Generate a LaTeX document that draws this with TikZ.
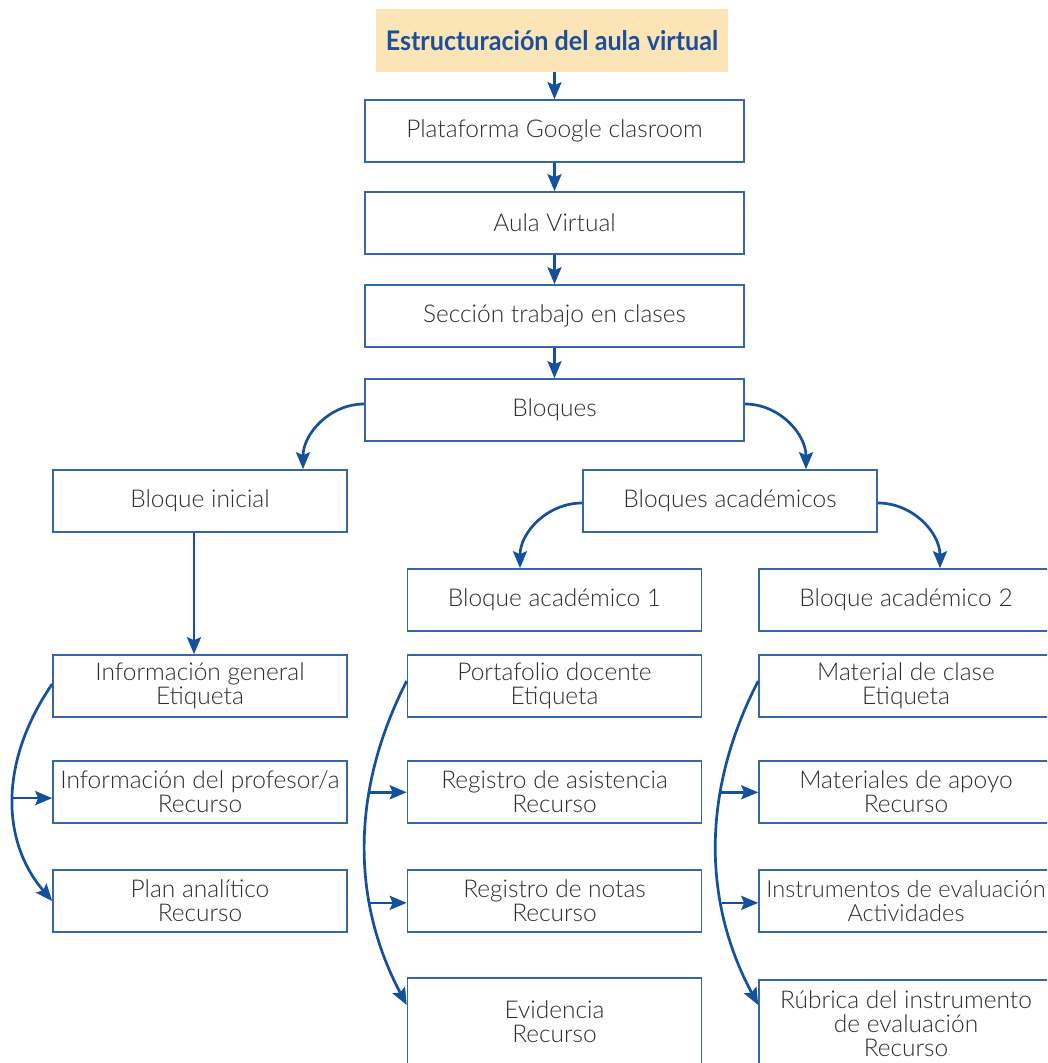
\documentclass[tikz,border=0pt]{standalone}
\usepackage{fontspec}
\setmainfont{Lato}[UprightFont={* Light}, BoldFont={* Bold}]
\usetikzlibrary{arrows.meta}
\definecolor{titlefill}{HTML}{FBE4B6}
\definecolor{titleblue}{HTML}{1B4F9B}
\definecolor{boxline}{HTML}{3567A6}
\definecolor{arrowblue}{HTML}{15509C}
\definecolor{textgray}{HTML}{2E2E2E}
\tikzset{
  box/.style={draw=boxline, line width=1.6pt, minimum width=294pt, minimum height=62pt,
    inner sep=0pt, align=center, text=textgray, font=\fontsize{24.5}{24}\selectfont},
  widebox/.style={box, minimum width=379pt},
  arr/.style={draw=arrowblue, line width=2.7pt,
    -{Stealth[length=17pt,width=14pt,inset=3pt]}}
}
\begin{document}
\begin{tikzpicture}[x=1pt,y=-1pt]
\clip (0,0) rectangle (1047,1063);
\fill[white] (0,0) rectangle (1047,1063);

% title and main chain
\node[fill=titlefill, minimum width=352pt, minimum height=63pt, inner sep=0pt,
      text=titleblue, font=\fontsize{27}{30}\selectfont\bfseries] (title) at (552,40.5)
      {\scalebox{0.93}[1]{Estructuración del aula virtual}};
\node[widebox] (plat) at (554.5,131) {Plataforma Google clasroom};
\node[widebox] (aula) at (554.5,223) {Aula Virtual};
\node[widebox] (secc) at (554.5,316) {Sección trabajo en clases};
\node[widebox] (bloq) at (554.5,410) {Bloques};

% second level
\node[box] (ini) at (200,501) {Bloque inicial};
\node[box] (acad) at (730,501) {Bloques académicos};
\node[box] (ba1) at (554.5,600) {Bloque académico 1};
\node[box] (ba2) at (906,600) {Bloque académico 2};

% bloque inicial column
\node[box] (ig) at (200,686) {Información general\\Etiqueta};
\node[box] (ip) at (200,792) {Información del profesor/a\\Recurso};
\node[box] (pa) at (200,901) {Plan analítico\\Recurso};

% bloque académico 1 column
\node[box] (pd) at (554.5,686) {Portafolio docente\\Etiqueta};
\node[box] (ra) at (554.5,792) {Registro de asistencia\\Recurso};
\node[box] (rn) at (554.5,901) {Registro de notas\\Recurso};
\node[box, minimum height=88pt] (ev) at (554.5,1022) {Evidencia\\Recurso};

% bloque académico 2 column
\node[box] (mc) at (906,686) {Material de clase\\Etiqueta};
\node[box] (ma) at (906,792) {Materiales de apoyo\\Recurso};
\node[box, font=\fontsize{23.6}{24}\selectfont] (ie) at (906,901) {Instrumentos de evaluación\\Actividades};
\node[box, minimum height=88pt] (ri) at (906,1024) {Rúbrica del instrumento\\de evaluación\\Recurso};

% straight connectors
\draw[arr] (plat.north |- title.south) -- (plat.north);
\draw[arr] (plat) -- (aula);
\draw[arr] (aula) -- (secc);
\draw[arr] (secc) -- (bloq);
\draw[arr] ([xshift=-6pt]ini.south) -- ([xshift=-6pt]ig.north);

% curved branches
\draw[arr] ([yshift=6pt]bloq.west) to[out=180,in=90] ([xshift=103pt]ini.north);
\draw[arr] ([yshift=6pt]bloq.east) to[out=0,in=90] ([xshift=76pt]acad.north);
\draw[arr] ([yshift=-2pt]acad.west) to[out=180,in=90] ([xshift=-34.5pt]ba1.north);
\draw[arr] ([yshift=-2pt]acad.east) to[out=0,in=90] ([xshift=34pt]ba2.north);

% side brackets
\draw[arr] ([yshift=2pt]ig.west) .. controls (0,760) and (0,840) .. (pa.west)
  coordinate[pos=0.5] (l1);
\draw[arr] (l1) -- (l1 -| ip.west);

\draw[arr] ([yshift=5pt]pd.west) .. controls (351,790) and (351,900) .. ([yshift=17pt]ev.west)
  coordinate[pos=0.34] (m1) coordinate[pos=0.68] (m2);
\draw[arr] (m1) -- (m1 -| ra.west);
\draw[arr] (m2) -- (m2 -| rn.west);

\draw[arr] ([yshift=5pt]mc.west) .. controls (702,790) and (702,900) .. ([yshift=19pt]ri.west)
  coordinate[pos=0.34] (r1) coordinate[pos=0.68] (r2);
\draw[arr] (r1) -- (r1 -| ma.west);
\draw[arr] (r2) -- (r2 -| ie.west);
\end{tikzpicture}
\end{document}
